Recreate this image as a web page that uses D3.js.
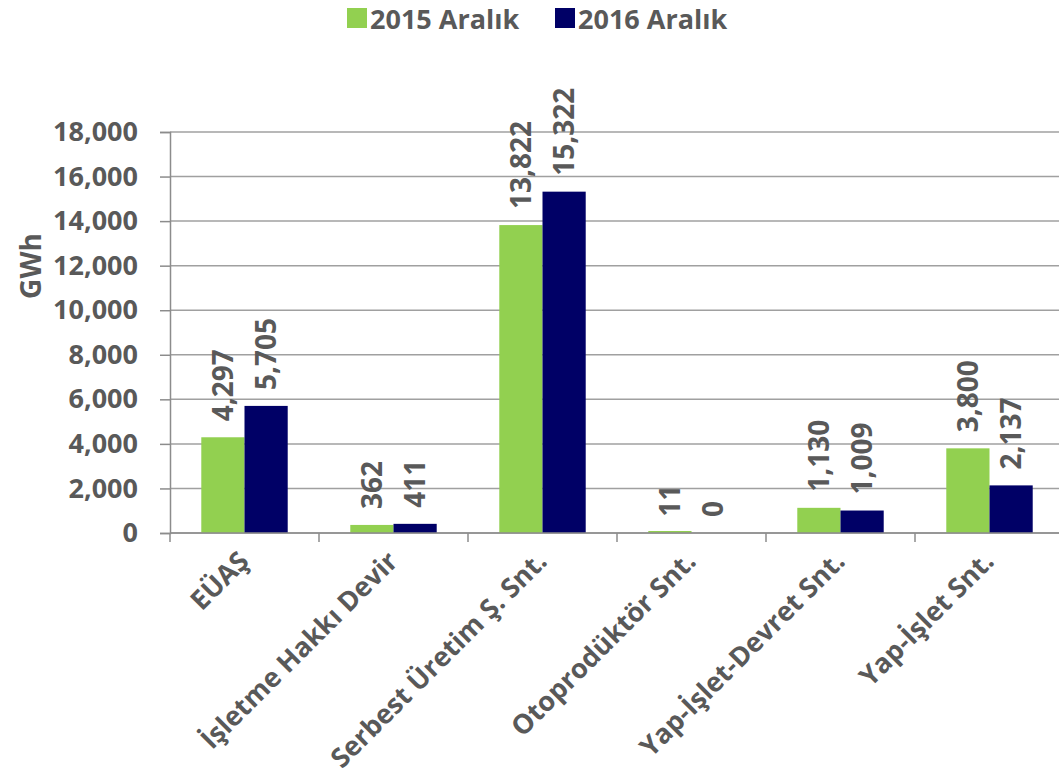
<!DOCTYPE html>
<html><head><meta charset="utf-8">
<script src="https://cdn.jsdelivr.net/npm/d3@7/dist/d3.min.js"></script>
<style>
html,body{margin:0;padding:0;background:#fff;}
text{font-family:"Open Sans",sans-serif;font-weight:bold;fill:#595959;}
</style></head>
<body><svg id="c" width="1059" height="784"></svg>
<script>
const categories = ["EÜAŞ","İşletme Hakkı Devir","Serbest Üretim Ş. Snt.","Otoprodüktör Snt.","Yap-İşlet-Devret Snt.","Yap-İşlet Snt."];
const seriesNames = ["2015 Aralık","2016 Aralık"];
const values2015 = [4297,362,13822,11,1130,3800];
const values2016 = [5705,411,15322,0,1009,2137];
const yTicks = [0,2000,4000,6000,8000,10000,12000,14000,16000,18000];
const colors = ["#92d050","#000066"];

const svg = d3.select("#c");
const mLeft = 170, mRight = 1064, mTop = 132, mBottom = 533;

const x = d3.scaleBand().domain(categories).range([mLeft,mRight]).padding(0);
const bw = x.bandwidth();
const groupW = bw*0.58;
const x1 = d3.scaleBand().domain(seriesNames).range([(bw-groupW)/2,(bw+groupW)/2]).padding(0);
const y = d3.scaleLinear().domain([0,18000]).range([mBottom,mTop]);
const fmt = d3.format(",");

// gridlines
svg.append("g").selectAll("line").data(yTicks).join("line")
  .attr("x1",mLeft).attr("x2",1059).attr("y1",d=>y(d)).attr("y2",d=>y(d))
  .attr("stroke","#a0a0a0").attr("stroke-width",1.5);

// y axis
const ya = svg.append("g").attr("transform",`translate(${mLeft},0)`)
  .call(d3.axisLeft(y).tickValues(yTicks).tickFormat(fmt).tickSize(10).tickPadding(22));
ya.select(".domain").attr("stroke","#8c8c8c").attr("stroke-width",1.5);
ya.selectAll(".tick line").attr("stroke","#8c8c8c").attr("stroke-width",1.5);
ya.selectAll(".tick text").style("font-size","27px").style("font-family","Open Sans").style("font-weight","bold").attr("fill","#595959");

// bars
const series = [values2015, values2016];
series.forEach((vals,si)=>{
  const name = seriesNames[si];
  svg.append("g").selectAll("rect").data(categories).join("rect")
    .attr("x",(c)=>x(c)+x1(name))
    .attr("width",x1.bandwidth())
    .attr("y",(c,i)=>vals[i]>0 ? Math.min(y(vals[i]), y(0)-2) : y(0))
    .attr("height",(c,i)=>vals[i]>0 ? Math.max(y(0)-y(vals[i]),2) : 0)
    .attr("fill",colors[si]);
  svg.append("g").selectAll("text").data(categories).join("text")
    .attr("transform",(c,i)=>`translate(${x(c)+x1(name)+x1.bandwidth()/2},${y(vals[i])-16}) rotate(-90)`)
    .attr("dy","0.36em")
    .attr("text-anchor","start")
    .style("font-size","28px")
    .text((c,i)=>fmt(vals[i]));
});

// x axis
const xa = svg.append("g").attr("transform",`translate(0,${mBottom})`);
xa.append("line").attr("x1",mLeft).attr("x2",1059).attr("y1",0).attr("y2",0).attr("stroke","#8c8c8c").attr("stroke-width",1.5);
const bounds = categories.map(c=>x(c));
xa.selectAll("line.t").data(bounds).join("line").attr("class","t")
  .attr("x1",d=>d).attr("x2",d=>d).attr("y1",0).attr("y2",9).attr("stroke","#8c8c8c").attr("stroke-width",1.5);
xa.selectAll("text").data(categories).join("text")
  .attr("transform",c=>`translate(${x(c)+bw/2+6},${30}) rotate(-45)`)
  .attr("text-anchor","end")
  .style("font-size","27px")
  .text(c=>c);

// y title
svg.append("text").attr("transform","translate(41,266) rotate(-90)")
  .attr("text-anchor","middle").style("font-size","28px").text("GWh");

// legend
const lg = svg.append("g");
const legX = [347,555];
seriesNames.forEach((n,i)=>{
  lg.append("rect").attr("x",legX[i]).attr("y",8).attr("width",20).attr("height",20).attr("fill",colors[i]);
  lg.append("text").attr("x",legX[i]+23).attr("y",29).style("font-size","27px").text(n);
});
</script></body></html>
